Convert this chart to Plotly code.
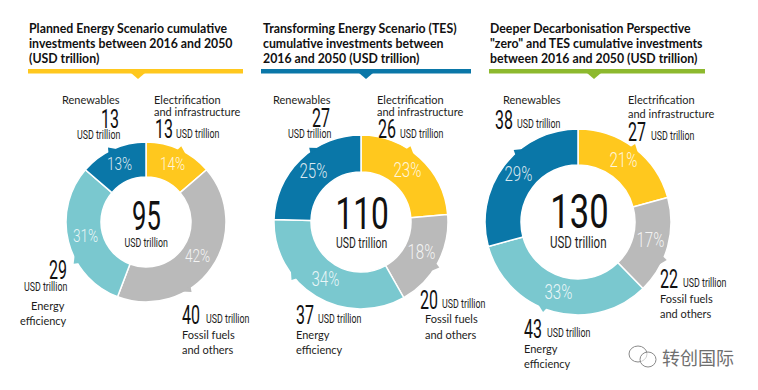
import math
import plotly.graph_objects as go

W, H = 758, 390
segments = ["Electrification and infrastructure", "Fossil fuels and others", "Energy efficiency", "Renewables"]
slice_colors = ["#FFC81E", "#BABABA", "#7AC8CF", "#0A77A8"]
planned_values = [13, 40, 29, 13]
planned_share = ["14%", "42%", "31%", "13%"]
tes_values = [26, 20, 37, 27]
tes_share = ["23%", "18%", "34%", "25%"]
ddp_values = [27, 22, 43, 38]
ddp_share = ["21%", "17%", "33%", "29%"]
planned_title = ["Planned Energy Scenario cumulative", "investments between 2016 and 2050", "(USD trillion)"]
tes_title = ["Transforming Energy Scenario (TES)", "cumulative investments between", "2016 and 2050 (USD trillion)"]
ddp_title = ["Deeper Decarbonisation Perspective", "\"zero\" and TES cumulative investments", "between 2016 and 2050 (USD trillion)"]
totals = ["95", "110", "130"]

NARROW = "Roboto"
BODY = "Lato"
INK = "#1d1d1b"
NUM = 25
UNIT = 12.3
fig = go.Figure()
shapes, notes = [], []

def px(x): return x / W
def py(y): return 1 - y / H

def label(x, y, s, size=11, font=BODY, anchor="left", color=INK, bold=False, weight=None):
    if bold:
        s = "<b>" + s + "</b>"
    f = dict(family=font, size=size, color=color)
    if weight:
        f["weight"] = weight
    notes.append(dict(x=px(x), y=py(y), xref="paper", yref="paper", text=s, showarrow=False,
                      xanchor=anchor, yanchor="middle", align=anchor, font=f, borderpad=0, borderwidth=0))

def poly(points, color):
    path = "M " + " L ".join(f"{px(a):.5f},{py(b):.5f}" for a, b in points) + " Z"
    shapes.append(dict(type="path", path=path, xref="paper", yref="paper", fillcolor=color, line=dict(width=0), layer="above"))

def donut(cx, cy, r, inner, values, share, text_size, tips):
    fig.add_trace(go.Pie(values=values, labels=segments, textinfo="none",
                         sort=False, direction="clockwise", rotation=0,
                         hole=inner / r, showlegend=False, hoverinfo="label+value",
                         marker=dict(colors=slice_colors, line=dict(color="white", width=1.5)),
                         domain=dict(x=[px(cx - r), px(cx + r)], y=[py(cy + r), py(cy - r)])))
    start = 0
    total = sum(values)
    for v, s in zip(values, share):
        mid = math.radians((start + v / 2) / total * 360)
        start += v
        rm = (r + inner) / 2
        label(cx + rm * math.sin(mid), cy - rm * math.cos(mid) - 2, s, size=text_size, font=NARROW,
              anchor="center", color="rgba(255,255,255,0.85)", weight=300)
    for color, ang in zip(slice_colors, tips):
        a = math.radians(ang)
        ux, uy = math.sin(a), -math.cos(a)
        tx, ty = -uy, ux
        poly([(cx + (r - 2) * ux + 5 * tx, cy + (r - 2) * uy + 5 * ty),
              (cx + (r + 3.5) * ux - 3 * tx, cy + (r + 3.5) * uy - 3 * ty),
              (cx + (r - 2) * ux - 5 * tx, cy + (r - 2) * uy - 5 * ty)], color)

def header(x, lines, x0, x1, tri, color):
    for i, s in enumerate(lines):
        label(x, 29 + 14.8 * i, s, size=12.3, bold=True, color="#111111")
    shapes.append(dict(type="rect", x0=px(x0), x1=px(x1), y0=py(73.5), y1=py(69), xref="paper", yref="paper",
                       fillcolor=color, line=dict(width=0)))
    poly([(tri - 7, 73), (tri + 7, 73), (tri, 79)], color)

def amount(x, y, num, unit_dx=22):
    label(x, y, num, size=NUM, font=NARROW, color="#111111")
    label(x + unit_dx, y + 4, "USD trillion", size=UNIT, font=NARROW)

header(29, planned_title, 28, 243, 138, slice_colors[0])
header(263, tes_title, 261, 471, 366, slice_colors[3])
header(490, ddp_title, 489, 705, 594, "#8DB92E")

donut(146, 222, 80, 45, planned_values, planned_share, 19, [27, 149, 242, -25])
donut(361, 222, 87, 50, tes_values, tes_share, 21, [35, 122, 232, -33])
donut(578, 222, 93, 57, ddp_values, ddp_share, 21, [38, 115, 203, -40])

# Planned
label(120, 100, "Renewables", anchor="right")
label(119, 119, "13", size=NUM, font=NARROW, anchor="right", color="#111111")
label(120, 135, "USD trillion", size=UNIT, font=NARROW, anchor="right")
label(154, 99, "Electrification")
label(154, 111, "and infrastructure")
amount(155, 130, "13", 21)
label(146, 216, totals[0], size=40, font=NARROW, anchor="center", color="#111111")
label(146, 243, "USD trillion", size=UNIT, font=NARROW, anchor="center")
label(67, 270, "29", size=NUM, font=NARROW, anchor="right", color="#111111")
label(67, 287, "USD trillion", size=UNIT, font=NARROW, anchor="right")
label(65, 305, "Energy", anchor="right")
label(67, 320, "efficiency", anchor="right")
amount(182, 315, "40", 24)
label(182, 334, "Fossil fuels")
label(182, 349, "and others")

# TES
label(331, 99, "Renewables", anchor="right")
label(330, 118, "27", size=NUM, font=NARROW, anchor="right", color="#111111")
label(331, 134, "USD trillion", size=UNIT, font=NARROW, anchor="right")
label(377, 99, "Electrification")
label(377, 111, "and infrastructure")
amount(378, 130, "26")
label(362, 214, totals[1], size=44, font=NARROW, anchor="center", color="#111111")
label(361, 243, "USD trillion", size=14.5, font=NARROW, anchor="center")
amount(296, 315, "37")
label(296, 334, "Energy")
label(296, 349, "efficiency")
amount(420, 300, "20")
label(425, 318, "Fossil fuels")
label(425, 334, "and others")

# DDP
label(561, 100, "Renewables", anchor="right")
amount(495, 120, "38")
label(628, 100, "Electrification")
label(628, 113, "and infrastructure")
amount(628, 132, "27", 23)
label(579, 211, totals[2], size=48, font=NARROW, anchor="center", color="#111111")
label(578, 242, "USD trillion", size=16, font=NARROW, anchor="center")
amount(524, 329, "43", 23)
label(524, 348, "Energy")
label(524, 363, "efficiency")
amount(660, 279, "22", 23)
label(660, 298, "Fossil fuels")
label(660, 313, "and others")

# Watermark
label(662, 357, "转创国际", size=18, font="Noto Sans CJK SC", color="#6f6f6f")
for x0, y0, x1, y1 in [(629, 346, 647, 362), (640, 352, 656, 367)]:
    shapes.append(dict(type="circle", x0=px(x0), x1=px(x1), y0=py(y1), y1=py(y0), xref="paper", yref="paper",
                       line=dict(color="#8a8a8a", width=1), fillcolor="rgba(255,255,255,0.6)"))

fig.update_layout(width=W, height=H, margin=dict(l=0, r=0, t=0, b=0), paper_bgcolor="white", plot_bgcolor="white",
                  shapes=shapes, annotations=notes)

# The reference's figures are set in a condensed face; squeeze the Roboto labels to that width.
squeeze = """
document.body.style.margin='0';document.documentElement.style.overflow='hidden';
var gd=document.getElementById('{plot_id}');
gd.querySelectorAll('.annotation').forEach(function(g){
  var a=gd.layout.annotations[+g.getAttribute('data-index')];
  var t=g.querySelector('text.annotation-text');
  if(!t||a.font.family!=='Roboto')return;
  var f=/^\\d\\d$/.test(a.text)?0.64:0.72;
  t.setAttribute('textLength',t.getComputedTextLength()*f);
  t.setAttribute('lengthAdjust','spacingAndGlyphs');
  var r=g.querySelector('rect.bg');
  if(r){r.setAttribute('width',0);r.setAttribute('height',0);}
});
"""
fig.write_html("out.html", config=dict(displayModeBar=False), post_script=squeeze)
